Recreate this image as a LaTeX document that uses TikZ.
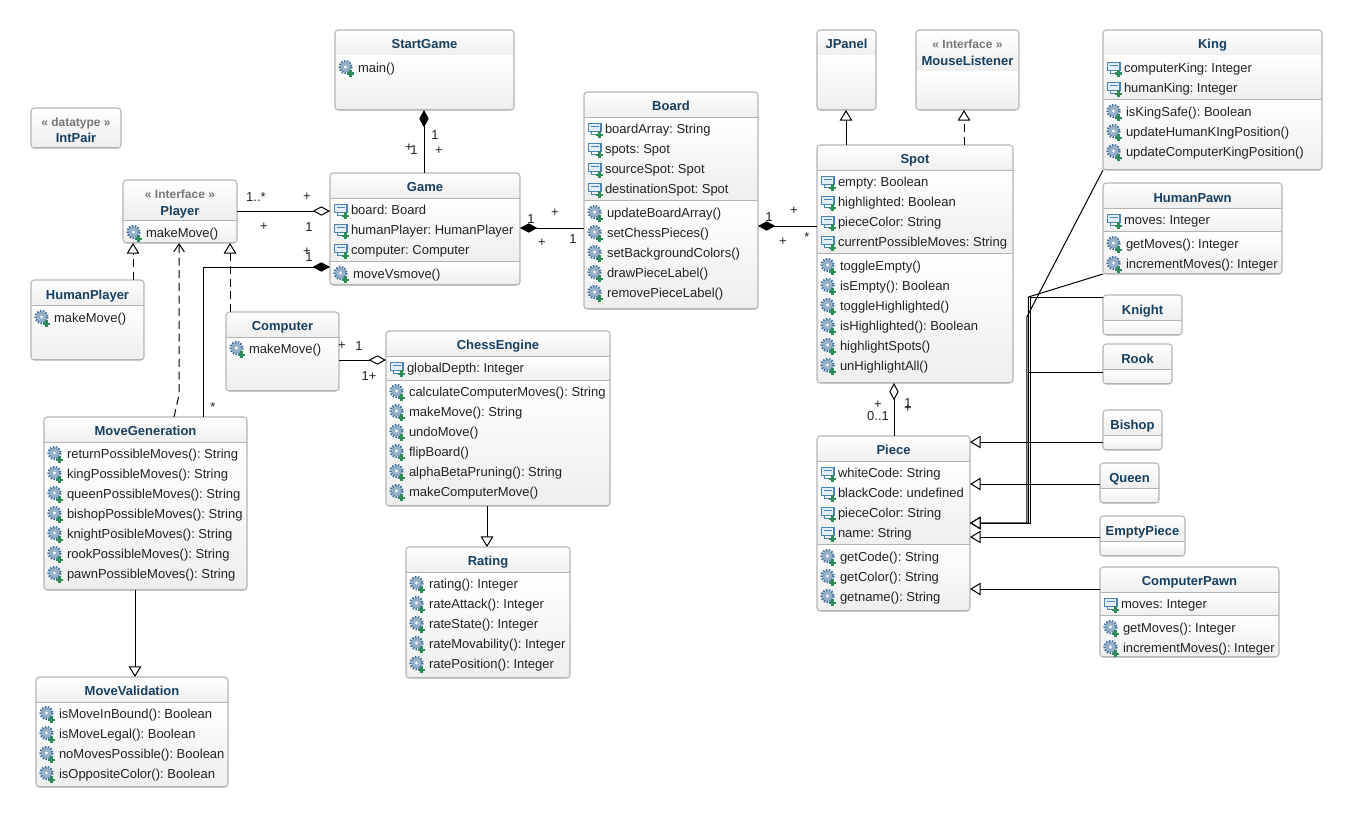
\documentclass[tikz,border=0pt]{standalone}
\usepackage{fontspec}
\setmainfont{Liberation Sans}
\usetikzlibrary{arrows.meta}
\definecolor{clsline}{HTML}{B4B4B4}
\definecolor{clsend}{HTML}{EEEEEE}
\definecolor{titlecol}{HTML}{173F5F}
\definecolor{stercol}{HTML}{777777}
\definecolor{txtcol}{HTML}{222222}
\definecolor{iconblue}{HTML}{4A83B5}
\definecolor{iconfill}{HTML}{E4EEF6}
\definecolor{plusgreen}{HTML}{2E8B57}
\newcommand{\txtsize}{\frenchspacing\fontsize{9.75}{11}\selectfont}
\tikzset{
  x=0.75pt,y=-0.75pt,
  rowtext/.style={anchor=base west,inner sep=0pt,outer sep=0pt,text=txtcol,font=\txtsize},
  titletext/.style={anchor=base,inner sep=0pt,outer sep=0pt,text=titlecol,font=\txtsize\bfseries},
  stertext/.style={anchor=base,inner sep=0pt,outer sep=0pt,text=stercol,font=\fontsize{9}{11}\selectfont\bfseries},
  mult/.style={inner sep=0pt,outer sep=0pt,text=txtcol,font=\txtsize},
  frame/.style={draw=clsline,line width=0.8pt,rounded corners=2.5pt,inner sep=0pt,outer sep=0pt},
  conn/.style={draw=black,line width=0.75pt},
  dashedconn/.style={conn,dash pattern=on 6pt off 3.5pt},
  compo/.style={conn,{Diamond[length=13pt,width=7pt,fill=black]}-},
  aggr/.style={conn,{Diamond[open,fill=white,length=13pt,width=7pt]}-},
  inherit/.style={conn,-{Triangle[open,fill=white,length=8pt,width=9.5pt]}},
  realize/.style={dashedconn,-{Triangle[open,fill=white,length=8pt,width=9.5pt]}},
  depend/.style={dashedconn,-{Straight Barb[length=6pt,width=8pt]}},
}
% id x0 y0 x1 y1 {compartments a/b,...}
\newcommand{\cls}[6]{%
  \begin{scope}
    \clip[rounded corners=2.5pt] (#2,#3) rectangle (#4,#5);
    \foreach \a/\b in {#6}{
      \shade[top color=white,bottom color=clsend] (#2,\a) rectangle (#4,\b);
      \draw[clsline,line width=0.8pt] (#2,\b) -- (#4,\b);
    }
  \end{scope}
  \pgfmathsetmacro{\clsw}{(#4-#2)*0.75}
  \pgfmathsetmacro{\clsh}{(#5-#3)*0.75}
  \node[frame,minimum width=\clsw pt,minimum height=\clsh pt] (#1) at ({(#2+#4)/2},{(#3+#5)/2}) {};
}
\newcommand{\plusicon}{%
  \fill[plusgreen] (14.4,2) rectangle (16.8,9.4);
  \fill[plusgreen] (11.9,4.5) rectangle (19.3,6.9);
}
\newcommand{\ttl}[3]{\node[titletext] (#1-t#2) at (#1 |- 0,#2+5) {#3};}
\newcommand{\ster}[3]{\node[stertext] (#1-s#2) at (#1 |- 0,#2+5) {« #3 »};}
\newcommand{\attr}[3]{%
  \begin{scope}[shift={(#1.west |- 0,#2)}]
    \draw[iconblue,line width=0.8pt,fill=iconfill] (4.5,-5.5) rectangle (17,2.5);
    \draw[iconblue,line width=0.7pt] (7,-3) -- (14.5,-3);
    \draw[iconblue,line width=0.7pt] (7,2.5) -- (7,5.5) -- (13,5.5);
    \plusicon
    \node[rowtext] (#1-a#2) at (21,4.5) {#3};
  \end{scope}}
\newcommand{\op}[3]{%
  \begin{scope}[shift={(#1.west |- 0,#2)}]
    \fill[iconblue!85!black!55!white] (10.5,-1) circle (5.5);
    \draw[iconblue!85!black,line width=1.6pt,dash pattern=on 1.2pt off 1pt] (10.5,-1) circle (6);
    \fill[white] (10.5,-1) circle (1.7);
    \plusicon
    \node[rowtext] (#1-o#2) at (23,4.5) {#3};
  \end{scope}}
\newcounter{multc}
\newcommand{\lab}[3]{\stepcounter{multc}\node[mult] (m\themultc) at (#1,#2) {#3};}
\begin{document}
\begin{tikzpicture}
\useasboundingbox (0,0) rectangle (1352,817);
\fill[white] (0,0) rectangle (1352,817);

% StartGame
\cls{StartGame}{335}{30}{514}{110}{30/56,56/110}
\ttl{StartGame}{44}{StartGame}
\op{StartGame}{68}{main()}
% IntPair
\cls{IntPair}{31}{108}{121}{148}{108/148}
\ster{IntPair}{121}{datatype}
\ttl{IntPair}{137}{IntPair}
% JPanel
\cls{JPanel}{817}{30}{876}{110}{30/56,56/110}
\ttl{JPanel}{44}{JPanel}
% MouseListener
\cls{MouseListener}{916}{30}{1019}{110}{30/72,72/110}
\ster{MouseListener}{44}{Interface}
\ttl{MouseListener}{60}{MouseListener}
% King
\cls{King}{1103}{30}{1322}{170}{30/56,56/100,100/170}
\ttl{King}{44}{King}
\attr{King}{68}{computerKing: Integer}
\attr{King}{88}{humanKing: Integer}
\op{King}{112}{isKingSafe(): Boolean}
\op{King}{132}{updateHumanKIngPosition()}
\op{King}{152}{updateComputerKingPosition()}
% HumanPawn
\cls{HumanPawn}{1103}{183}{1282}{274}{183/209,209/232,232/274}
\ttl{HumanPawn}{197}{HumanPawn}
\attr{HumanPawn}{220}{moves: Integer}
\op{HumanPawn}{244}{getMoves(): Integer}
\op{HumanPawn}{264}{incrementMoves(): Integer}
% Knight, Rook, Bishop, Queen, EmptyPiece
\cls{Knight}{1103}{295}{1182}{335}{295/321,321/335}
\ttl{Knight}{309}{Knight}
\cls{Rook}{1103}{344}{1172}{384}{344/370,370/384}
\ttl{Rook}{358}{Rook}
\cls{Bishop}{1103}{410}{1162}{450}{410/436,436/450}
\ttl{Bishop}{424}{Bishop}
\cls{Queen}{1100}{463}{1159}{503}{463/489,489/503}
\ttl{Queen}{477}{Queen}
\cls{EmptyPiece}{1100}{516}{1185}{556}{516/542,542/556}
\ttl{EmptyPiece}{530}{EmptyPiece}
% ComputerPawn
\cls{ComputerPawn}{1100}{567}{1279}{657}{567/593,593/616,616/657}
\ttl{ComputerPawn}{580}{ComputerPawn}
\attr{ComputerPawn}{604}{moves: Integer}
\op{ComputerPawn}{628}{getMoves(): Integer}
\op{ComputerPawn}{648}{incrementMoves(): Integer}
% Piece
\cls{Piece}{817}{436}{970}{611}{436/462,462/545,545/611}
\ttl{Piece}{449}{Piece}
\attr{Piece}{473}{whiteCode: String}
\attr{Piece}{493}{blackCode: undefined}
\attr{Piece}{513}{pieceColor: String}
\attr{Piece}{533}{name: String}
\op{Piece}{557}{getCode(): String}
\op{Piece}{577}{getColor(): String}
\op{Piece}{597}{getname(): String}
% Spot
\cls{Spot}{817}{145}{1013}{383}{145/171,171/254,254/383}
\ttl{Spot}{158}{Spot}
\attr{Spot}{182}{empty: Boolean}
\attr{Spot}{202}{highlighted: Boolean}
\attr{Spot}{222}{pieceColor: String}
\attr{Spot}{242}{currentPossibleMoves: String}
\op{Spot}{266}{toggleEmpty()}
\op{Spot}{286}{isEmpty(): Boolean}
\op{Spot}{306}{toggleHighlighted()}
\op{Spot}{326}{isHighlighted(): Boolean}
\op{Spot}{346}{highlightSpots()}
\op{Spot}{366}{unHighlightAll()}
% Board
\cls{Board}{584}{92}{758}{309}{92/118,118/201,201/309}
\ttl{Board}{105}{Board}
\attr{Board}{129}{boardArray: String}
\attr{Board}{149}{spots: Spot}
\attr{Board}{169}{sourceSpot: Spot}
\attr{Board}{189}{destinationSpot: Spot}
\op{Board}{213}{updateBoardArray()}
\op{Board}{233}{setChessPieces()}
\op{Board}{253}{setBackgroundColors()}
\op{Board}{273}{drawPieceLabel()}
\op{Board}{293}{removePieceLabel()}
% Game
\cls{Game}{330}{173}{520}{285}{173/199,199/262,262/285}
\ttl{Game}{186}{Game}
\attr{Game}{210}{board: Board}
\attr{Game}{230}{humanPlayer: HumanPlayer}
\attr{Game}{250}{computer: Computer}
\op{Game}{274}{moveVsmove()}
% Player
\cls{Player}{123}{180}{237}{243}{180/221,221/243}
\ster{Player}{193}{Interface}
\ttl{Player}{210}{Player}
\op{Player}{233}{makeMove()}
% HumanPlayer
\cls{HumanPlayer}{31}{280}{144}{360}{280/306,306/360}
\ttl{HumanPlayer}{294}{HumanPlayer}
\op{HumanPlayer}{318}{makeMove()}
% Computer
\cls{Computer}{226}{312}{339}{391}{312/338,338/391}
\ttl{Computer}{325}{Computer}
\op{Computer}{349}{makeMove()}
% ChessEngine
\cls{ChessEngine}{386}{331}{610}{506}{331/357,357/381,381/506}
\ttl{ChessEngine}{344}{ChessEngine}
\attr{ChessEngine}{368}{globalDepth: Integer}
\op{ChessEngine}{392}{calculateComputerMoves(): String}
\op{ChessEngine}{412}{makeMove(): String}
\op{ChessEngine}{432}{undoMove()}
\op{ChessEngine}{452}{flipBoard()}
\op{ChessEngine}{472}{alphaBetaPruning(): String}
\op{ChessEngine}{492}{makeComputerMove()}
% Rating
\cls{Rating}{406}{547}{570}{678}{547/573,573/678}
\ttl{Rating}{560}{Rating}
\op{Rating}{584}{rating(): Integer}
\op{Rating}{604}{rateAttack(): Integer}
\op{Rating}{624}{rateState(): Integer}
\op{Rating}{644}{rateMovability(): Integer}
\op{Rating}{664}{ratePosition(): Integer}
% MoveGeneration
\cls{MoveGeneration}{44}{417}{247}{590}{417/443,443/590}
\ttl{MoveGeneration}{430}{MoveGeneration}
\op{MoveGeneration}{454}{returnPossibleMoves(): String}
\op{MoveGeneration}{474}{kingPossibleMoves(): String}
\op{MoveGeneration}{494}{queenPossibleMoves(): String}
\op{MoveGeneration}{514}{bishopPossibleMoves(): String}
\op{MoveGeneration}{534}{knightPosibleMoves(): String}
\op{MoveGeneration}{554}{rookPossibleMoves(): String}
\op{MoveGeneration}{574}{pawnPossibleMoves(): String}
% MoveValidation
\cls{MoveValidation}{36}{677}{228}{787}{677/703,703/787}
\ttl{MoveValidation}{690}{MoveValidation}
\op{MoveValidation}{714}{isMoveInBound(): Boolean}
\op{MoveValidation}{734}{isMoveLegal(): Boolean}
\op{MoveValidation}{754}{noMovesPossible(): Boolean}
\op{MoveValidation}{774}{isOppositeColor(): Boolean}

% connectors
\draw[compo] (424,0 |- StartGame.south) -- (424,0 |- Game.north);
\draw[aggr] (Game.west |- 0,211) -- (Player.east |- 0,211);
\draw[compo] (Game.west |- 0,267) -- (203,267) -- (203,0 |- MoveGeneration.north);
\draw[compo] (Game.east |- 0,228) -- (Board.west |- 0,228);
\draw[compo] (Board.east |- 0,226) -- (Spot.west |- 0,226);
\draw[inherit] (846,0 |- Spot.north) -- (846,0 |- JPanel.south);
\draw[realize] (964,0 |- Spot.north) -- (964,0 |- MouseListener.south);
\draw[aggr] (894,0 |- Spot.south) -- (894,0 |- Piece.north);
\draw[realize] (133,0 |- HumanPlayer.north) -- (133,0 |- Player.south);
\draw[realize] (230,0 |- Computer.north) -- (230,0 |- Player.south);
\draw[depend] (174,0 |- MoveGeneration.north) -- (179,395) -- (179,0 |- Player.south);
\draw[aggr] (ChessEngine.west |- 0,360) -- (Computer.east |- 0,360);
\draw[inherit] (487,0 |- ChessEngine.south) -- (487,0 |- Rating.north);
\draw[inherit] (135,0 |- MoveGeneration.south) -- (135,0 |- MoveValidation.north);
\draw[inherit] (Bishop.west |- 0,442) -- (Piece.east |- 0,442);
\draw[inherit] (Queen.west |- 0,484) -- (Piece.east |- 0,484);
\draw[inherit] (EmptyPiece.west |- 0,537) -- (Piece.east |- 0,537);
\draw[inherit] (ComputerPawn.west |- 0,589) -- (Piece.east |- 0,589);
\draw[inherit] (King.south west) -- (1026.8,317) -- (1026.8,523) -- (Piece.east |- 0,523);
\draw[inherit] (HumanPawn.south west) -- (1028.4,297) -- (1028.4,523) -- (Piece.east |- 0,523);
\draw[inherit] (Knight.west |- 0,297) -- (1030,297) -- (1030,523) -- (Piece.east |- 0,523);
\draw[inherit] (Rook.west |- 0,372) -- (1028.4,372) -- (1028.4,523) -- (Piece.east |- 0,523);

% multiplicities
\lab{435}{135}{1}\lab{439}{151}{+}\lab{409}{148}{+}\lab{414}{150}{1}
\lab{256}{197}{1..*}\lab{307}{197}{+}\lab{264}{227}{+}\lab{309}{227}{1}
\lab{307}{252}{+}\lab{309}{257}{1}\lab{213}{407}{*}
\lab{531}{219}{1}\lab{555}{213}{+}\lab{542}{243}{+}\lab{573}{239}{1}
\lab{769}{217}{1}\lab{794}{211}{+}\lab{783}{242}{+}\lab{807}{237}{*}
\lab{342}{346}{+}\lab{359}{346}{1}\lab{369}{376}{1+}
\lab{878}{405}{+}\lab{878}{416}{0..1}\lab{908}{403}{1}\lab{908}{409}{+}
\end{tikzpicture}
\end{document}
